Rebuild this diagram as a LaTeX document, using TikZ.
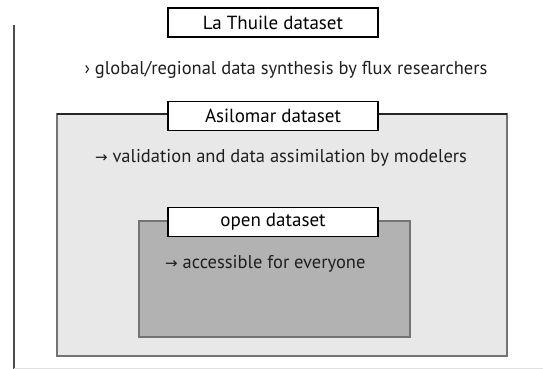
\documentclass[tikz,border=0pt]{standalone}
\usepackage{fontspec}
\setmainfont{PT Sans}
\newfontfamily\arrowfont{DejaVu Sans}
\newcommand{\rarr}{{\arrowfont\fontsize{15}{17}\selectfont →}}
\begin{document}
\begin{tikzpicture}[x=1pt,y=-1pt,
  labelbox/.style={draw=black,line width=1.4pt,fill=white,inner sep=0pt,
    minimum width=210pt,minimum height=29pt,font=\fontsize{19}{21}\selectfont},
  caption/.style={inner sep=0pt,font=\fontsize{18.5}{21}\selectfont,text=black!88},
  framebox/.style={draw=black!55,line width=1.2pt}]
  % page frame
  \useasboundingbox (0,0) rectangle (543,369);
  \draw[black!70,line width=1.2pt] (14,25) -- (14,369);
  \draw[black!12,line width=1pt] (14,368) -- (543,368);

  % outer level
  \node[labelbox] (lathuile) at (273,22.5) {La Thuile dataset};
  \node[caption] (synth) at (286,70) {› global/regional data synthesis by flux researchers};

  % middle level
  \draw[framebox,fill=black!9] (57,114) rectangle (507,356);
  \draw[black!85,line width=1.2pt] (57,114) -- (507,114);
  \node[labelbox] (asilomar) at (273,116) {Asilomar dataset};
  \node[caption] (valid) at (281,158) {\rarr\ validation and data assimilation by modelers};

  % inner level
  \draw[framebox,fill=black!30] (139,221) rectangle (410,337);
  \node[labelbox] (open) at (273,222) {open dataset};
  \node[caption,anchor=west] (access) at (165,264) {\rarr\ accessible for everyone};
\end{tikzpicture}
\end{document}
